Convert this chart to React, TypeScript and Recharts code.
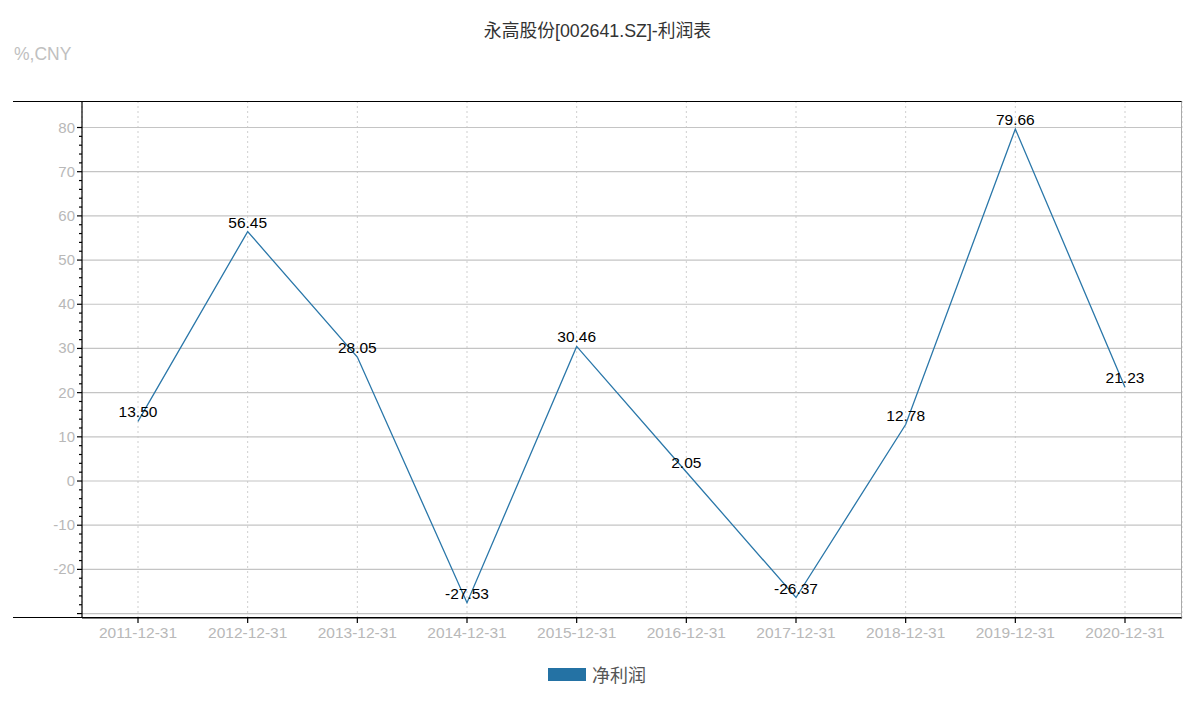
import { CartesianGrid, LabelList, Line, LineChart, ReferenceLine, XAxis, YAxis } from "recharts";

const periods = [
  "2011-12-31",
  "2012-12-31",
  "2013-12-31",
  "2014-12-31",
  "2015-12-31",
  "2016-12-31",
  "2017-12-31",
  "2018-12-31",
  "2019-12-31",
  "2020-12-31",
];
const netProfit = [13.5, 56.45, 28.05, -27.53, 30.46, 2.05, -26.37, 12.78, 79.66, 21.23];

const majorTicks = [-30, -20, -10, 0, 10, 20, 30, 40, 50, 60, 70, 80];
const labelledTicks = [-20, -10, 0, 10, 20, 30, 40, 50, 60, 70, 80];
const allTicks = [
  -30, -28, -26, -24, -22, -20, -18, -16, -14, -12, -10, -8, -6, -4, -2, 0, 2, 4, 6, 8, 10, 12, 14, 16,
  18, 20, 22, 24, 26, 28, 30, 32, 34, 36, 38, 40, 42, 44, 46, 48, 50, 52, 54, 56, 58, 60, 62, 64, 66, 68,
  70, 72, 74, 76, 78, 80,
];

const data = periods.map((period, i) => ({ period, netProfit: netProfit[i] }));

const FONT = '"Liberation Sans", Arial, "Noto Sans CJK SC", sans-serif';
const LINE_COLOR = "#2a77a9";

function YTick(props: any) {
  const { x, y, payload } = props;
  const value = payload.value as number;
  const isMajor = majorTicks.includes(value);
  const len = isMajor ? 5 : 3;
  return (
    <g>
      <line x1={x - len} x2={x} y1={y} y2={y} stroke="#000" strokeWidth={1.2} />
      {labelledTicks.includes(value) ? (
        <text
          x={x - 7}
          y={y}
          dy={5}
          textAnchor="end"
          fill="#b8b8b8"
          fontSize={15}
          fontFamily={FONT}
        >
          {value}
        </text>
      ) : null}
    </g>
  );
}

export default function App() {
  return (
    <div
      style={{
        position: "absolute",
        left: 0,
        top: 0,
        width: 1200,
        height: 713,
        background: "#fff",
        fontFamily: FONT,
      }}
    >
      <div
        style={{
          position: "absolute",
          left: 0,
          width: 1195,
          top: 16,
          textAlign: "center",
          fontSize: 17.8,
          color: "#333",
        }}
      >
        永高股份[002641.SZ]-利润表
      </div>
      <div style={{ position: "absolute", left: 14, top: 44, fontSize: 17.5, color: "#c0c0c0" }}>
        %,CNY
      </div>

      <LineChart
        width={1200}
        height={713}
        data={data}
        margin={{ top: 101, right: 18, bottom: 65, left: 32 }}
      >
        <CartesianGrid horizontal={false} stroke="#cfcfcf" strokeDasharray="2 3" />
        {majorTicks.map((v) => (
          <ReferenceLine key={v} y={v} stroke="#c4c4c4" strokeWidth={1.2} />
        ))}
        <XAxis
          dataKey="period"
          height={30}
          padding={{ left: 56, right: 57 }}
          axisLine={{ stroke: "#000", strokeWidth: 1.2 }}
          tickLine={{ stroke: "#000", strokeWidth: 1.2 }}
          tickSize={5}
          tickMargin={4}
          tick={{ fill: "#b8b8b8", fontSize: 15.5, fontFamily: FONT }}
          interval={0}
        />
        <YAxis
          width={50}
          domain={[-31, 86]}
          ticks={allTicks}
          interval={0}
          allowDataOverflow
          tickSize={0}
          tickMargin={0}
          tickLine={false}
          axisLine={{ stroke: "#000", strokeWidth: 1.2 }}
          tick={<YTick />}
        />
        <Line
          type="linear"
          dataKey="netProfit"
          name="净利润"
          stroke={LINE_COLOR}
          strokeWidth={1.3}
          dot={false}
          isAnimationActive={false}
        >
          <LabelList
            dataKey="netProfit"
            position="top"
            offset={4}
            formatter={(v: any) => Number(v).toFixed(2)}
            style={{ fill: "#000", fontSize: 15.5, fontFamily: FONT }}
          />
        </Line>
      </LineChart>

      {/* frame lines beyond the plot area */}
      <div
        style={{
          position: "absolute",
          left: 13,
          top: 101,
          width: 1169,
          height: 517,
          borderTop: "1px solid #000",
          borderBottom: "1px solid #000",
          borderRight: "1px solid #aaa",
          boxSizing: "border-box",
          pointerEvents: "none",
        }}
      />

      <div
        style={{
          position: "absolute",
          left: 548,
          top: 661,
          display: "flex",
          alignItems: "center",
          gap: 6,
          fontSize: 18,
          color: "#555",
        }}
      >
        <span style={{ display: "inline-block", width: 38, height: 13, background: "#2472a4" }} />
        <span>净利润</span>
      </div>
    </div>
  );
}
